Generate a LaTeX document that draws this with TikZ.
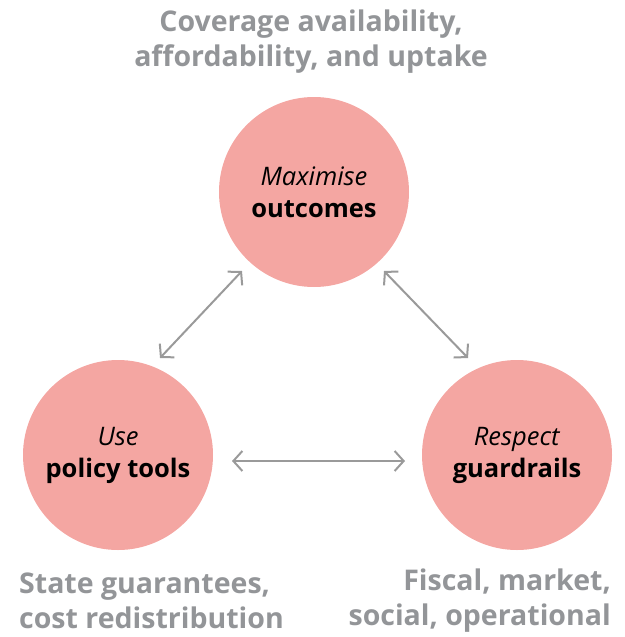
\documentclass[tikz,border=0pt]{standalone}
\usepackage{fontspec}
\setmainfont{Open Sans}
\usetikzlibrary{arrows.meta}
\definecolor{circfill}{HTML}{F4A6A2}
\definecolor{labgray}{HTML}{939598}
\definecolor{arrgray}{HTML}{9A9A9A}
\tikzset{
  bubble/.style={circle, fill=circfill, draw=none, minimum size=190pt, inner sep=0pt, align=center, font=\fontsize{25.5}{32}\selectfont},
  outer/.style={text=labgray, font=\bfseries\fontsize{28.5}{35}\selectfont, inner sep=0pt},
  link/.style={draw=arrgray, line width=2pt, {Straight Barb[length=9pt,width=20pt]}-{Straight Barb[length=9pt,width=20pt]}}
}
\begin{document}
\begin{tikzpicture}[x=1pt,y=-1pt]
\useasboundingbox (0,0) rectangle (624,637);
\node[bubble] (top) at (314,192) {\textit{Maximise}\\\textbf{outcomes}};
\node[bubble] (left) at (118,455) {\textit{Use}\\\textbf{policy tools}};
\node[bubble] (right) at (517,455) {\textit{Respect}\\\textbf{guardrails}};
\node[outer, align=center, anchor=center] (toplab) at (311,42) {Coverage availability,\\affordability, and uptake};
\node[outer, align=left, anchor=west] (leftlab) at (19,601) {State guarantees,\\cost redistribution};
\node[outer, align=right, anchor=east] (rightlab) at (611,601) {Fiscal, market,\\social, operational};
\coordinate (a1) at (242,271);
\coordinate (a2) at (160,358);
\coordinate (b1) at (384,271);
\coordinate (b2) at (468,358);
\coordinate (c1) at (232,461);
\coordinate (c2) at (405,461);
\draw[link] (a1) -- (a2);
\draw[link] (b1) -- (b2);
\draw[link] (c1) -- (c2);
\end{tikzpicture}
\end{document}
